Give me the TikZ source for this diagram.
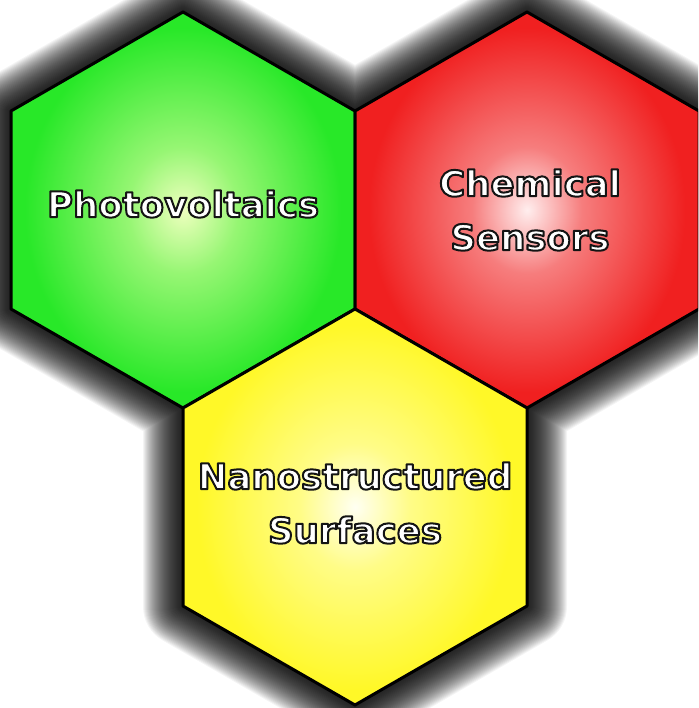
\documentclass[tikz,border=0pt]{standalone}
\usepackage{fontspec}
\newfontfamily\labelfont{DejaVu Sans}[BoldFont={DejaVu Sans Bold}]
\newcommand{\outlinedtext}[1]{\special{pdf:code 0.08 G 2 Tr 2.0 w 1 j}#1\special{pdf:code 0 Tr}}
\definecolor{gEdge}{RGB}{40,232,40}
\definecolor{gMid}{RGB}{150,246,115}
\definecolor{gCen}{RGB}{238,255,190}
\definecolor{rEdge}{RGB}{240,32,32}
\definecolor{rMid}{RGB}{246,125,125}
\definecolor{rCen}{RGB}{255,238,238}
\definecolor{yEdge}{RGB}{255,248,40}
\definecolor{yMid}{RGB}{255,252,135}
\definecolor{yCen}{RGB}{255,255,242}
\pgfdeclareradialshading{greenshade}{\pgfpoint{0bp}{0bp}}{color(0bp)=(gCen); color(8bp)=(gMid); color(23bp)=(gEdge); color(50bp)=(gEdge)}
\pgfdeclareradialshading{redshade}{\pgfpoint{0bp}{0bp}}{color(0bp)=(rCen); color(8bp)=(rMid); color(23bp)=(rEdge); color(50bp)=(rEdge)}
\pgfdeclareradialshading{yellowshade}{\pgfpoint{0bp}{0bp}}{color(0bp)=(yCen); color(8bp)=(yMid); color(23bp)=(yEdge); color(50bp)=(yEdge)}
\tikzset{
  hexbox/.style={draw=black, line width=3pt, line join=round},
  glow/.style={draw=black, opacity=0.045, line join=round},
  lbl/.style={font=\labelfont\bfseries\fontsize{35.5}{54}\selectfont, text=white, align=center, inner sep=0pt},
}
\begin{document}
\begin{tikzpicture}[x=1pt,y=-1pt]
\useasboundingbox (0,0) rectangle (698,708);
\clip (0,0) rectangle (698,708);
\fill[white] (0,0) rectangle (698,708);
% green hexagon
\coordinate (g1) at (183,12);
\coordinate (g2) at (355,111);
\coordinate (g3) at (355,309);
\coordinate (g4) at (183,408);
\coordinate (g5) at (11,309);
\coordinate (g6) at (11,111);
% red hexagon
\coordinate (r1) at (527,12);
\coordinate (r2) at (699,111);
\coordinate (r3) at (699,309);
\coordinate (r4) at (527,408);
\coordinate (r5) at (355,309);
\coordinate (r6) at (355,111);
% yellow hexagon
\coordinate (y1) at (355,309);
\coordinate (y2) at (527,408);
\coordinate (y3) at (527,606);
\coordinate (y4) at (355,705);
\coordinate (y5) at (183,606);
\coordinate (y6) at (183,408);
% shadow glow around the union
\foreach \i in {1,...,40}{
  \path[glow, line width=\i*2pt] (g1) -- (g2) -- (r1) -- (r2) -- (r3) -- (r4) -- (y3) -- (y4) -- (y5) -- (y6) -- (g5) -- (g6) -- cycle;
}
\shadedraw[hexbox, shading=greenshade] (g1) -- (g2) -- (g3) -- (g4) -- (g5) -- (g6) -- cycle;
\shadedraw[hexbox, shading=redshade] (r1) -- (r2) -- (r3) -- (r4) -- (r5) -- (r6) -- cycle;
\shadedraw[hexbox, shading=yellowshade] (y1) -- (y2) -- (y3) -- (y4) -- (y5) -- (y6) -- cycle;
% labels
\node[lbl] (pv) at (183,204) {\outlinedtext{Photovoltaics}};
\node[lbl] (cs) at (530,210) {\outlinedtext{Chemical}\\\outlinedtext{Sensors}};
\node[lbl] (ns) at (355,503) {\outlinedtext{Nanostructured}\\\outlinedtext{Surfaces}};
\end{tikzpicture}
\end{document}
